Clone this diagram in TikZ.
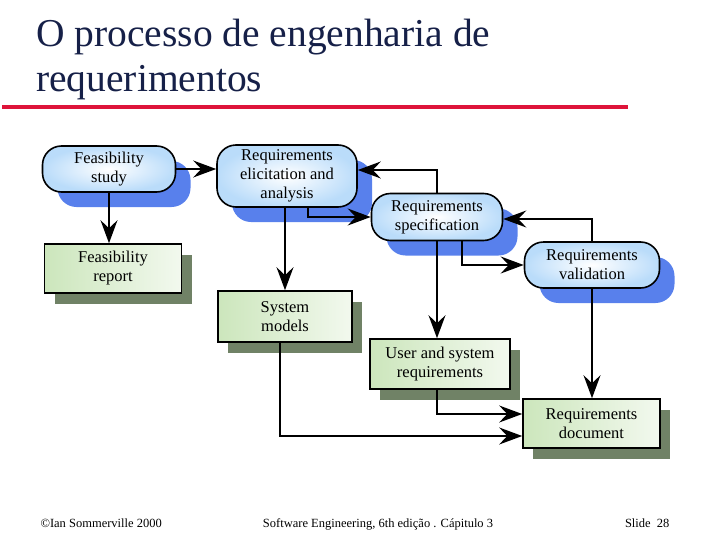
\documentclass[tikz,border=0pt]{standalone}
\usepackage{fontspec}
\setmainfont{Liberation Serif}
\usetikzlibrary{arrows.meta,positioning,shadows}
\definecolor{navy}{RGB}{22,32,72}
\definecolor{crimson}{RGB}{222,20,58}
\definecolor{skyfill}{RGB}{186,220,250}
\definecolor{skyshadow}{RGB}{88,128,236}
\definecolor{sagefill}{RGB}{204,230,188}
\definecolor{sageshadow}{RGB}{112,130,102}
\tikzset{>={Stealth[length=23pt,width=17pt,inset=8pt]}}

\begin{document}
\begin{tikzpicture}[x=1pt,y=-1pt,
  activity/.style={draw,line width=1.6pt,rounded corners=19pt,
    inner color=white,outer color=skyfill,
    drop shadow={shadow xshift=15pt,shadow yshift=-15pt,fill=skyshadow,opacity=1},
    align=center,inner sep=0pt,font=\fontsize{16.5}{19}\selectfont},
  product/.style={draw,line width=1.6pt,
    left color=sagefill,right color=sagefill!25,
    drop shadow={shadow xshift=10pt,shadow yshift=-11pt,fill=sageshadow,opacity=1},
    align=center,inner sep=0pt,font=\fontsize{16.5}{19}\selectfont},
  link/.style={->,line width=1.6pt},
  footer/.style={font=\fontsize{12.5}{14}\selectfont,anchor=base}]
  \useasboundingbox (0,0) rectangle (717,538);

  % Title
  \node[anchor=base west,text=navy,font=\fontsize{39.5}{44}\selectfont,inner sep=0pt]
    (title) at (36,46) {O processo de engenharia de};
  \node[anchor=base west,text=navy,font=\fontsize{39.5}{44}\selectfont,inner sep=0pt]
    (title2) at (36,91) {requerimentos};
  \draw[crimson,line width=4pt] (2,107) -- (628,107);

  % Activities
  \node[activity,minimum width=133pt,minimum height=46pt]
    (fstudy) at (109,169) {Feasibility\\study};
  \node[activity,minimum width=140pt,minimum height=62pt]
    (elicit) at (287,176) {Requirements\\elicitation and\\analysis};
  \node[activity,minimum width=131pt,minimum height=47pt]
    (spec) at (437,217) {Requirements\\specification};
  \node[activity,minimum width=135pt,minimum height=46pt]
    (valid) at (592,265) {Requirements\\validation};

  % Products
  \node[product,minimum width=137pt,minimum height=49pt]
    (freport) at (113,268.5) {Feasibility\\report};
  \node[product,minimum width=134pt,minimum height=51pt]
    (sysmod) at (285,316.5) {System\\models};
  \node[product,minimum width=140pt,minimum height=50pt]
    (usersys) at (440,364) {User and system\\requirements};
  \node[product,minimum width=137pt,minimum height=49pt]
    (reqdoc) at (591.5,423.5) {Requirements\\document};

  % Connectors
  \draw[link] (fstudy.east) -- (fstudy.east -| elicit.west);
  \draw[link] (fstudy.south) -- (fstudy.south |- freport.north);
  \draw[link] (sysmod.north |- elicit.south) -- (sysmod.north);
  \draw[link] ([xshift=21pt]elicit.south) |- (spec.west);
  \draw[link] (spec.north) |- ([yshift=6pt]elicit.east);
  \draw[link] (valid.north) |- ([yshift=-2pt]spec.east);
  \draw[link] ([xshift=25pt]spec.south) |- (valid.west);
  \draw[link] (spec.south) -- (spec.south |- usersys.north);
  \draw[link] (valid.south) -- (valid.south |- reqdoc.north);
  \draw[link] ([xshift=-3pt]usersys.south) |- ([yshift=9.5pt]reqdoc.west);
  \draw[link] ([xshift=-5pt]sysmod.south) |- ([yshift=-12.5pt]reqdoc.west);

  % Footer
  \node[footer,anchor=base west] (copy) at (37,527) {©Ian Sommerville 2000};
  \node[footer] (book) at (378,527) {Software Engineering, 6th edição . Cápitulo 3};
  \node[footer,anchor=base east] (slide) at (673,527) {Slide\ \ 28};
\end{tikzpicture}
\end{document}
